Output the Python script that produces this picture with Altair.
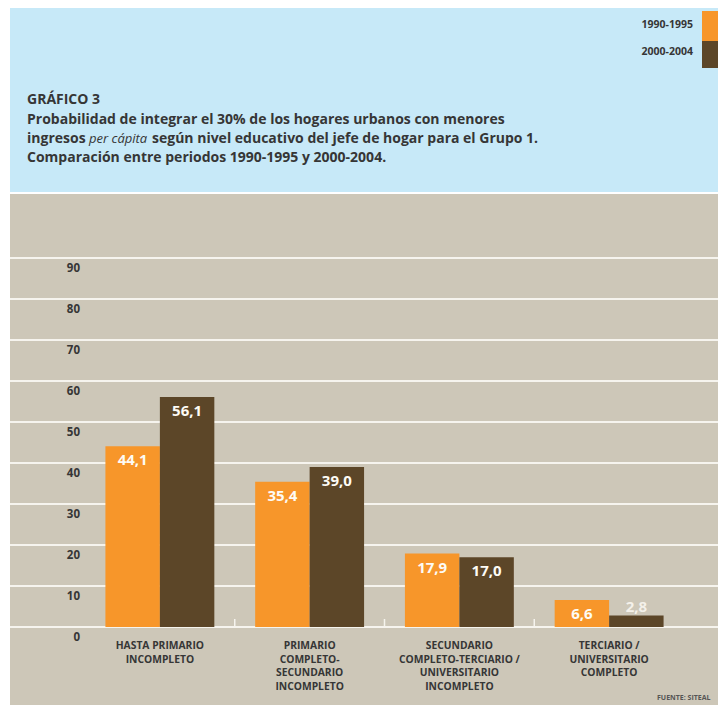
import altair as alt
import pandas as pd

# ---- data ----
categories = [
    "HASTA PRIMARIO|INCOMPLETO",
    "PRIMARIO|COMPLETO-|SECUNDARIO|INCOMPLETO",
    "SECUNDARIO|COMPLETO-TERCIARIO /|UNIVERSITARIO|INCOMPLETO",
    "TERCIARIO /|UNIVERSITARIO|COMPLETO",
]
periods = ["1990-1995", "2000-2004"]
values_1990_1995 = [44.1, 35.4, 17.9, 6.6]
values_2000_2004 = [56.1, 39.0, 17.0, 2.8]
y_ticks = [0, 10, 20, 30, 40, 50, 60, 70, 80, 90]

title_head = "GRÁFICO 3"
title_line1 = "Probabilidad de integrar el 30% de los hogares urbanos con menores"
title_line2a = "ingresos"
title_line2b = "per cápita"
title_line2c = "según nivel educativo del jefe de hogar para el Grupo 1."
title_line3 = "Comparación entre periodos 1990-1995 y 2000-2004."
source_text = "FUENTE: SITEAL"

ORANGE = "#f7962a"
BROWN = "#5c4628"
BLUE = "#c7e9f8"
BEIGE = "#cdc7b8"
TEXT = "#363636"
FONT = "Open Sans"

rows = []
for c, a, b in zip(categories, values_1990_1995, values_2000_2004):
    rows.append({"cat": c, "period": periods[0], "value": a})
    rows.append({"cat": c, "period": periods[1], "value": b})
df = pd.DataFrame(rows)
grid_df = pd.DataFrame({"v": y_ticks})
cat_df = pd.DataFrame({"cat": categories})
tick_df = pd.DataFrame({"cat": categories[1:]})
dummy = pd.DataFrame({"a": [0]})

W, H = 599, 369
PAD = {"left": 77, "top": 250, "right": 34, "bottom": 78}
RIGHT = W + PAD["right"]
BOTTOM = H + PAD["bottom"]

xscale = alt.Scale(domain=categories, paddingInner=0, paddingOuter=0)
yscale = alt.Scale(domain=[0, 90], nice=False, zero=True)
color_scale = alt.Scale(domain=periods, range=[ORANGE, BROWN])

X = alt.X("cat:N", scale=xscale, sort=categories, axis=None)

# backgrounds
beige = alt.Chart(dummy).mark_rect(color=BEIGE).encode(
    x=alt.value(-75), x2=alt.value(RIGHT),
    y=alt.value(-64), y2=alt.value(BOTTOM))
blue = alt.Chart(dummy).mark_rect(color=BLUE).encode(
    x=alt.value(-75), x2=alt.value(RIGHT),
    y=alt.value(-PAD["top"]), y2=alt.value(-66))

grid = alt.Chart(grid_df).mark_rule(color="#f6f4ee", strokeWidth=2).encode(
    y=alt.Y("v:Q", scale=yscale, axis=None),
    x=alt.value(-75), x2=alt.value(RIGHT))

ticks = alt.Chart(tick_df).mark_rule(color="#f6f4ee", strokeWidth=1.5).encode(
    x=alt.X("cat:N", scale=xscale, bandPosition=0, axis=None, sort=categories),
    y=alt.value(H - 8), y2=alt.value(H))

bars = alt.Chart(df).mark_bar().encode(
    x=X,
    xOffset=alt.XOffset("period:N", sort=periods,
                        scale=alt.Scale(paddingInner=0, paddingOuter=0.375)),
    y=alt.Y("value:Q", scale=yscale, axis=None),
    color=alt.Color("period:N", scale=color_scale, legend=None),
)

# axis labels drawn as text marks through the same scales
ylabels = alt.Chart(grid_df).mark_text(
    font=FONT, fontSize=11.5, fontWeight="bold", color=TEXT,
    align="right", baseline="middle", dy=11).encode(
    y=alt.Y("v:Q", scale=yscale, axis=None),
    x=alt.value(-5), text="v:Q")

xlabels = alt.Chart(cat_df).mark_text(
    font=FONT, fontSize=10.3, fontWeight="bold", color=TEXT,
    align="center", baseline="top", lineBreak="|", lineHeight=13.5).encode(
    x=X, y=alt.value(H + 14), text="cat:N")

label_base = alt.Chart(df).transform_calculate(
    lab="replace(format(datum.value, '.1f'), '.', ',')")

labels_in = label_base.transform_filter("datum.value >= 5").mark_text(
    font=FONT, fontSize=15, fontWeight="bold", color="#fdfbf5",
    baseline="middle", dy=14).encode(
    x=X,
    xOffset=alt.XOffset("period:N", sort=periods),
    y=alt.Y("value:Q", scale=yscale, axis=None),
    text="lab:N")

labels_out = label_base.transform_filter("datum.value < 5").mark_text(
    font=FONT, fontSize=15, fontWeight="bold", color="#f4f1ea",
    baseline="middle", dy=-9).encode(
    x=X,
    xOffset=alt.XOffset("period:N", sort=periods),
    y=alt.Y("value:Q", scale=yscale, axis=None),
    text="lab:N")


def txt(s, x, y, size=13, weight="bold", style="normal", align="left", color=TEXT):
    return alt.Chart(dummy).mark_text(
        text=s, font=FONT, fontSize=size, fontWeight=weight, fontStyle=style,
        align=align, baseline="middle", color=color).encode(
        x=alt.value(x), y=alt.value(y))


TS = 14
title_layers = [
    txt(title_head, -58, -158, size=TS),
    txt(title_line1, -58, -138, size=TS),
    txt(title_line2a, -58, -119, size=TS),
    txt(title_line2b, 4, -119, size=13, weight="normal", style="italic"),
    txt(title_line2c, 67, -119, size=TS),
    txt(title_line3, -58, -100, size=TS),
]

legend_layers = [
    alt.Chart(dummy).mark_rect(color=ORANGE).encode(
        x=alt.value(617), x2=alt.value(RIGHT), y=alt.value(-247), y2=alt.value(-217)),
    alt.Chart(dummy).mark_rect(color=BROWN).encode(
        x=alt.value(617), x2=alt.value(RIGHT), y=alt.value(-217), y2=alt.value(-190)),
    txt(periods[0], 608, -233, size=10.5, align="right"),
    txt(periods[1], 608, -206, size=10.5, align="right"),
]

source = txt(source_text, 572, 440, size=7, color="#555555")

chart = alt.layer(
    beige, blue, grid, ticks, bars, labels_in, labels_out, ylabels, xlabels,
    *title_layers, *legend_layers, source
).properties(
    width=W, height=H,
    autosize=alt.AutoSizeParams(type="none"),
    padding=PAD, background="white",
).configure_view(stroke=None)

chart.save("out.html", embed_options={"renderer": "svg", "actions": False})
